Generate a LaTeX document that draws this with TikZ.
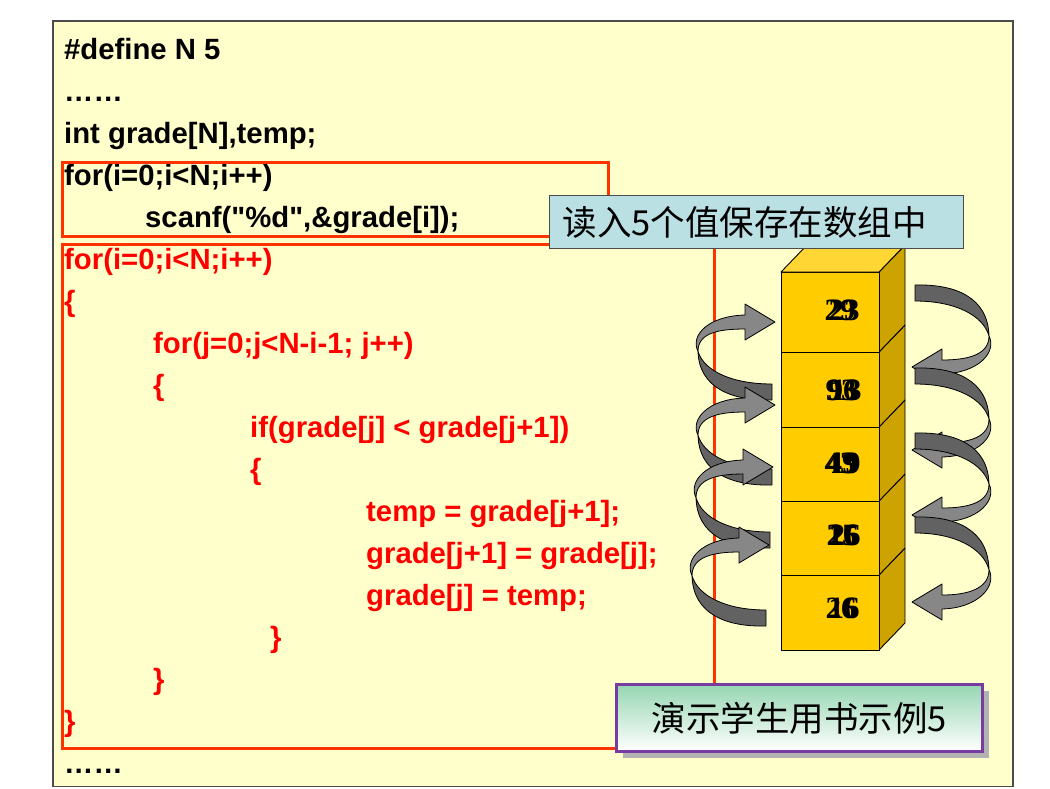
\documentclass[tikz,border=0pt]{standalone}
\usepackage{fontspec}
\setmainfont{Liberation Sans}[Ligatures=TeXOff]
\newfontfamily\cjk{Noto Sans CJK SC}
\newfontfamily\numfont{Liberation Serif}
\usetikzlibrary{shadows}
\definecolor{panel}{HTML}{FFFFCC}
\definecolor{boxred}{HTML}{FF3300}
\definecolor{lblblue}{RGB}{187,224,228}
\definecolor{lblgreen}{RGB}{150,214,178}
\definecolor{lblborder}{RGB}{120,60,160}
\definecolor{cubefront}{HTML}{FFCC00}
\definecolor{cubetop}{HTML}{FFD633}
\definecolor{cubeside}{HTML}{CCA300}
\definecolor{ribdarkc}{RGB}{98,98,98}
\definecolor{riblightc}{RGB}{135,135,135}
\newcommand\ribbonarrow[4]{%
\begin{scope}[shift={(#1,#2)}, rotate=#4]
\filldraw[ribdark] (0,-8) .. controls (40,-9) and (73,4) .. (74,{0.58*#3})
  .. controls (68,{0.3*#3}) and (40,8) .. (0,8) -- cycle;
\filldraw[riblight] (74,{0.58*#3}) .. controls (74,{0.58*#3+18}) and (55,{#3-7}) .. (27,{#3-7})
  -- (27,{#3-18}) -- (-3,#3) -- (27,{#3+18}) -- (27,{#3+7})
  .. controls (64,{#3+6}) and (82,{0.58*#3+16}) .. (74,{0.58*#3}) -- cycle;
\end{scope}}
\begin{document}
\begin{tikzpicture}[x=1pt,y=-1pt,
  code/.style={anchor=base west, inner sep=0pt, font=\fontsize{29.3}{34}\selectfont\bfseries},
  redcode/.style={code, text=red},
  redbox/.style={draw=boxred, line width=3pt},
  ribdark/.style={fill=ribdarkc, draw=black, line width=0.8pt, line join=round},
  riblight/.style={fill=riblightc, draw=black, line width=0.8pt, line join=round},
  cube/.style={draw=black, line width=0.9pt, line join=round},
  num/.style={inner sep=0pt, font=\numfont\bfseries\fontsize{31}{31}\selectfont}]
\useasboundingbox (0,0) rectangle (1050,788);
\fill[white] (0,0) rectangle (1050,788);
\draw[fill=panel, draw=black!70, line width=1.5pt] (53,21) rectangle (1013,786.5);
% code
\node[code] (l0) at (64,59) {\#define N 5};
\node[code] (l1) at (64,101) {……};
\node[code] (l2) at (64,143) {int grade[N],temp;};
\node[code] (l3) at (64,185) {for(i=0;i<N;i++)};
\node[code] (l4) at (145,227) {scanf("\%d",\&grade[i]);};
\node[redcode] (l5) at (64,269) {for(i=0;i<N;i++)};
\node[redcode] (l6) at (64,311) {\{};
\node[redcode] (l7) at (153,353) {for(j=0;j<N-i-1; j++)};
\node[redcode] (l8) at (153,395) {\{};
\node[redcode] (l9) at (250,437) {if(grade[j] < grade[j+1])};
\node[redcode] (l10) at (250,479) {\{};
\node[redcode] (l11) at (366,521) {temp = grade[j+1];};
\node[redcode] (l12) at (366,563) {grade[j+1] = grade[j];};
\node[redcode] (l13) at (366,605) {grade[j] = temp;};
\node[redcode] (l14) at (270,647) {\}};
\node[redcode] (l15) at (153,689) {\}};
\node[redcode] (l16) at (64,731) {\}};
\node[code] (l17) at (64,773) {……};
% red frames
\draw[redbox] (62,162) rectangle (608,236);
\draw[redbox] (62,244) rectangle (714,748);
% left arrows
\ribbonarrow{772}{392}{70}{180}
\ribbonarrow{772}{477}{72}{180}
\ribbonarrow{770}{540}{73}{180}
\ribbonarrow{766}{618}{73}{180}
% right arrows
\ribbonarrow{915}{293}{74}{0}
\ribbonarrow{915}{376}{74}{0}
\ribbonarrow{915}{441}{74}{0}
\ribbonarrow{915}{525}{77}{0}
% stack of cubes (bottom up)
\foreach \yt/\yb in {575/650, 501/575, 427/501, 352/427, 272/352}{
  \filldraw[cube, fill=cubeside] (879,\yt) -- (905,{\yt-27}) -- (905,{\yb-27}) -- (879,\yb) -- cycle;
  \filldraw[cube, fill=cubefront] (781,\yt) rectangle (879,\yb);
}
\filldraw[cube, fill=cubetop] (781,272) -- (807,245) -- (905,245) -- (879,272) -- cycle;
% numbers (overlapping animation frames, as printed)
\node[num] (n1a) at (844,310) {23};
\node[num] (n1b) at (840,310) {29};
\node[num] (n2a) at (843,390) {96};
\node[num] (n2b) at (846,390) {13};
\node[num] (n2c) at (841,390) {93};
\node[num] (n3a) at (842,463) {49};
\node[num] (n3b) at (845,463) {19};
\node[num] (n3c) at (840,463) {43};
\node[num] (n4a) at (842,535) {25};
\node[num] (n4b) at (845,535) {26};
\node[num] (n4c) at (843,535) {16};
\node[num] (n5a) at (844,608) {16};
\node[num] (n5b) at (841,608) {26};
% labels
\node[draw=black!70, line width=1pt, fill=lblblue, anchor=north west,
  minimum height=53pt, text width=388pt, inner xsep=13pt, inner ysep=0pt, align=left,
  font=\cjk\fontsize{34.5}{40}\selectfont] (lab1) at (549,195) {读入5个值保存在数组中};
\node[draw=lblborder, line width=3pt, top color=lblgreen, bottom color=white,
  drop shadow={shadow xshift=6pt, shadow yshift=-6pt, fill=black!30, opacity=1},
  anchor=north west, minimum width=366pt, minimum height=67pt, inner sep=0pt,
  font=\cjk\fontsize{34.5}{40}\selectfont] (lab2) at (615,683) {演示学生用书示例5};
\end{tikzpicture}
\end{document}
